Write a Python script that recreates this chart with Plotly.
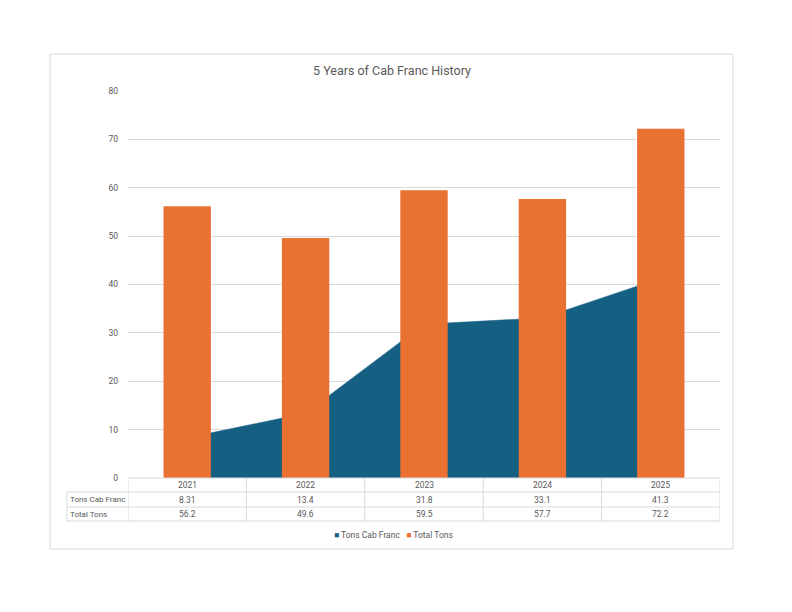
import plotly.graph_objects as go

years = ["2021", "2022", "2023", "2024", "2025"]
cab_franc = [8.31, 13.4, 31.8, 33.1, 41.3]
total_tons = [56.2, 49.6, 59.5, 57.7, 72.2]
row_labels = ["Tons Cab Franc", "Total Tons"]
series_names = ["Tons Cab Franc", "Total Tons"]

blue = "#156082"
orange = "#E97132"
grey_txt = "#595959"
line_col = "#d9d9d9"
font = "Roboto"

# plot area in pixels: x 128..720, y 91..478
W, H = 792, 612
L, R, T, B = 128, 720, 91, 478


def px(x):
    return (x - L) / (R - L)


def py(y):
    return (B - y) / (B - T)


fig = go.Figure()

# area goes on the base axes so bars (overlaid axes) sit on top of it
fig.add_trace(go.Scatter(
    x=years, y=cab_franc, name=series_names[0],
    mode="lines", fill="tozeroy", fillcolor=blue,
    line=dict(color=blue, width=0.5),
    xaxis="x", yaxis="y", showlegend=False,
))
fig.add_trace(go.Bar(
    x=years, y=total_tons, name=series_names[1],
    marker=dict(color=orange, line=dict(width=0)),
    width=0.4, xaxis="x2", yaxis="y2", showlegend=False,
))

shapes = []
# outer chart border
shapes.append(dict(type="rect", xref="paper", yref="paper",
                   x0=px(50), x1=px(733), y0=py(549), y1=py(54),
                   line=dict(color=line_col, width=1), layer="below"))

# data table grid
row_lines = [478, 492, 507, 521]
for i, yy in enumerate(row_lines):
    x0 = px(128) if i == 0 else px(67)
    shapes.append(dict(type="line", xref="paper", yref="paper",
                       x0=x0, x1=1, y0=py(yy), y1=py(yy),
                       line=dict(color=line_col, width=1)))
shapes.append(dict(type="line", xref="paper", yref="paper",
                   x0=px(67), x1=px(67), y0=py(492), y1=py(521),
                   line=dict(color=line_col, width=1)))
for k in range(len(years) + 1):
    shapes.append(dict(type="line", xref="x", yref="paper",
                       x0=k - 0.5, x1=k - 0.5, y0=py(478), y1=py(521),
                       line=dict(color=line_col, width=1)))

annotations = []
tf = dict(family=font, size=8.5, color=grey_txt)
lf = dict(family=font, size=8, color=grey_txt)
for i, yr in enumerate(years):
    annotations.append(dict(x=i, y=py(485), xref="x", yref="paper", text=yr,
                            showarrow=False, font=tf, yanchor="middle"))
    annotations.append(dict(x=i, y=py(499.5), xref="x", yref="paper",
                            text=f"{cab_franc[i]:g}", showarrow=False,
                            font=tf, yanchor="middle"))
    annotations.append(dict(x=i, y=py(514), xref="x", yref="paper",
                            text=f"{total_tons[i]:g}", showarrow=False,
                            font=tf, yanchor="middle"))
for j, lab in enumerate(row_labels):
    annotations.append(dict(x=px(68), y=py(499.5 + 14.5 * j), xref="paper",
                            yref="paper", text=lab, showarrow=False, font=lf,
                            xanchor="left", yanchor="middle"))

# legend, Excel style: small squares next to the names
legend_txt = "&nbsp;&nbsp;&nbsp;".join(
    f'<span style="color:{c}">■</span> {n}'
    for c, n in zip([blue, orange], series_names))
annotations.append(dict(x=px(393), y=py(535), xref="paper", yref="paper",
                        text=legend_txt, showarrow=False,
                        font=dict(family=font, size=8.5, color=grey_txt),
                        xanchor="center", yanchor="middle"))

fig.update_layout(
    width=W, height=H,
    margin=dict(l=L, r=W - R, t=T, b=H - B),
    paper_bgcolor="white", plot_bgcolor="white",
    font=dict(family=font, color=grey_txt),
    title=dict(text="5 Years of Cab Franc History", x=392 / W, xanchor="center",
               y=1 - 71 / H, yanchor="middle",
               font=dict(family=font, size=12.5, color=grey_txt)),
    xaxis=dict(type="category", range=[-0.5, 4.5], showticklabels=False,
               showgrid=False, zeroline=False, showline=False, ticks=""),
    xaxis2=dict(type="category", range=[-0.5, 4.5], overlaying="x",
                visible=False),
    yaxis=dict(range=[0, 80], dtick=10, showgrid=True, gridcolor=line_col,
               gridwidth=1, zeroline=False, showline=False, ticks="",
               tickfont=dict(family=font, size=8.5, color=grey_txt),
               ticklabelstandoff=9),
    yaxis2=dict(range=[0, 80], overlaying="y", visible=False),
    showlegend=False,
    shapes=shapes, annotations=annotations,
)

fig.write_html("out.html", config={"displayModeBar": False},
               post_script="document.body.style.margin='0';")
